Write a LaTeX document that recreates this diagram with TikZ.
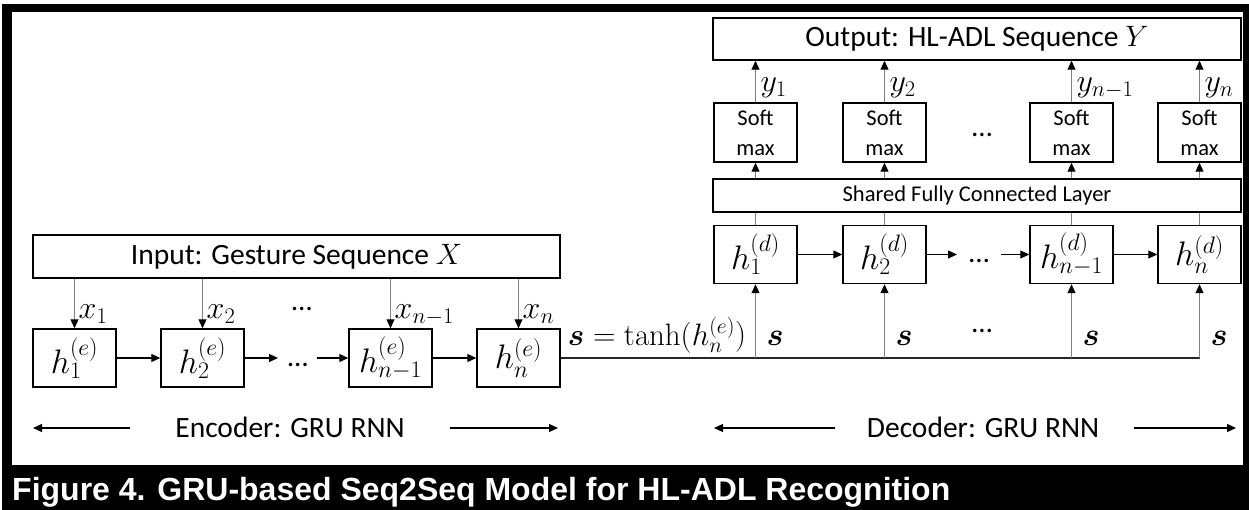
\RequirePackage{fix-cm}
\documentclass[tikz,border=0pt]{standalone}
\usepackage{bm}
\usepackage[no-math]{fontspec}
\setmainfont{Carlito}
\newfontfamily\capfont{Liberation Sans}
\usetikzlibrary{arrows.meta,calc}
\begin{document}
\begin{tikzpicture}[x=1pt,y=-1pt,
  box/.style={draw=black,line width=1.5pt,inner sep=0pt},
  hbox/.style={box,minimum width=83pt,minimum height=58pt,font=\fontsize{34}{36}\selectfont},
  smbox/.style={box,minimum width=83pt,minimum height=59pt,align=center,font=\fontsize{22.5}{30}\selectfont},
  bigtxt/.style={font=\fontsize{29.5}{34}\selectfont},
  gline/.style={draw=black!50,line width=1.1pt},
  tipk/.style={-{Triangle[length=9pt,width=8pt,color=black]}},
  harr/.style={draw=black,line width=1.2pt,tipk},
  sline/.style={draw=black!85,line width=1.4pt},
  lab/.style={inner sep=0pt,font=\fontsize{32}{34}\selectfont},
  dotsn/.style={inner sep=0pt,font=\fontsize{29}{34}\selectfont},
]
\useasboundingbox (0,0) rectangle (1249,510);
% frame and caption band
\fill[white] (0,0) rectangle (1249,510);
\fill[black] (2,4) rectangle (1249,510);
\fill[white] (12,12) rectangle (1243,465);
\node[anchor=base west,inner sep=0pt,text=white,font=\capfont\bfseries\fontsize{32}{36}\selectfont] (cap) at (12,500)
  {Figure 4. GRU-based Seq2Seq Model for HL-ADL Recognition};

% ---------------- encoder ----------------
\node[box,bigtxt,minimum width=527pt,minimum height=43pt] (in) at (296.5,256.5) {Input: Gesture Sequence $X$};
\node[hbox] (e1) at (74.5,358) {$h_1^{(e)}$};
\node[hbox] (e2) at (202.5,358) {$h_2^{(e)}$};
\node[hbox] (e3) at (390.5,358) {$h_{n-1}^{(e)}$};
\node[hbox] (e4) at (518.5,358) {$h_n^{(e)}$};
\foreach \i/\t in {1/x_1,2/x_2,3/x_{n-1},4/x_n}{
  \draw[gline,tipk] (in.south -| e\i.north) -- (e\i.north);
  \node[lab,anchor=base west] (lx\i) at ([xshift=4pt,yshift=10pt]e\i.north) {$\t$};
}
\node[dotsn,anchor=base] (edt) at (302,310) {…};
\draw[harr] (e1.east) -- (e2.west);
\coordinate (ea) at (278,358);
\coordinate (eb) at (317,358);
\draw[harr] (e2.east) -- (ea);
\node[dotsn,anchor=base] (edm) at (298,366) {…};
\draw[harr] (eb) -- (e3.west);
\draw[harr] (e3.east) -- (e4.west);

\node[bigtxt,anchor=base,inner sep=0pt] (enc) at (290,437) {Encoder: GRU RNN};
\coordinate (el1) at (130,428); \coordinate (el2) at (33,428);
\coordinate (er1) at (450,428); \coordinate (er2) at (558,428);
\draw[harr] (el1) -- (el2);
\draw[harr] (er1) -- (er2);

% ---------------- decoder ----------------
\node[box,bigtxt,minimum width=528pt,minimum height=42pt] (out) at (977,39) {Output: HL-ADL Sequence $Y$};
\node[box,minimum width=528pt,minimum height=33pt,font=\fontsize{22.5}{26}\selectfont] (fc) at (977,195.5) {Shared Fully Connected Layer};
\node[smbox] (s1) at (755.5,132.5) {Soft\\max};
\node[smbox] (s2) at (884.5,132.5) {Soft\\max};
\node[smbox] (s3) at (1071.5,132.5) {Soft\\max};
\node[smbox] (s4) at (1199.5,132.5) {Soft\\max};
\node[hbox] (d1) at (755.5,254.5) {$h_1^{(d)}$};
\node[hbox] (d2) at (884.5,254.5) {$h_2^{(d)}$};
\node[hbox] (d3) at (1071.5,254.5) {$h_{n-1}^{(d)}$};
\node[hbox] (d4) at (1199.5,254.5) {$h_n^{(d)}$};
\foreach \i/\t in {1/y_1,2/y_2,3/y_{n-1},4/y_n}{
  \draw[gline,tipk] (s\i.north) -- (out.south -| s\i.north);
  \node[lab,anchor=base west] (ly\i) at ([xshift=5pt,yshift=11pt]s\i.north) {$\t$};
  \draw[gline,tipk] (fc.north -| s\i.south) -- (s\i.south);
  \draw[gline] (d\i.north) -- (fc.south -| d\i.north);
}
\node[dotsn,anchor=base] (sdt) at (982,137) {…};
\draw[harr] (d1.east) -- (d2.west);
\coordinate (da) at (957,254.5);
\coordinate (db) at (1001,254.5);
\draw[harr] (d2.east) -- (da);
\node[dotsn,anchor=base] (ddm) at (979,263) {…};
\draw[harr] (db) -- (d3.west);
\draw[harr] (d3.east) -- (d4.west);

% s line
\draw[sline] (e4.east) -- (e4.east -| d4.south);
\foreach \i in {1,2,3,4}{
  \coordinate (j\i) at (e4.east -| d\i.south);
  \draw[gline,tipk] (j\i) -- (d\i.south);
  \node[lab,anchor=base west] (ls\i) at ([xshift=11pt,yshift=13pt]j\i) {$\bm{s}$};
}
\node[dotsn,anchor=base] (sdots) at (982,332) {…};
\node[lab,anchor=base west,font=\fontsize{31}{34}\selectfont] (tanh) at ([xshift=7pt,yshift=13pt]e4.east) {$\bm{s}=\tanh\bigl(h_n^{(e)}\bigr)$};

\node[bigtxt,anchor=base,inner sep=0pt] (dec) at (983,437) {Decoder: GRU RNN};
\coordinate (dl1) at (835,428); \coordinate (dl2) at (714,428);
\coordinate (dr1) at (1134,428); \coordinate (dr2) at (1236,428);
\draw[harr] (dl1) -- (dl2);
\draw[harr] (dr1) -- (dr2);
\end{tikzpicture}
\end{document}
